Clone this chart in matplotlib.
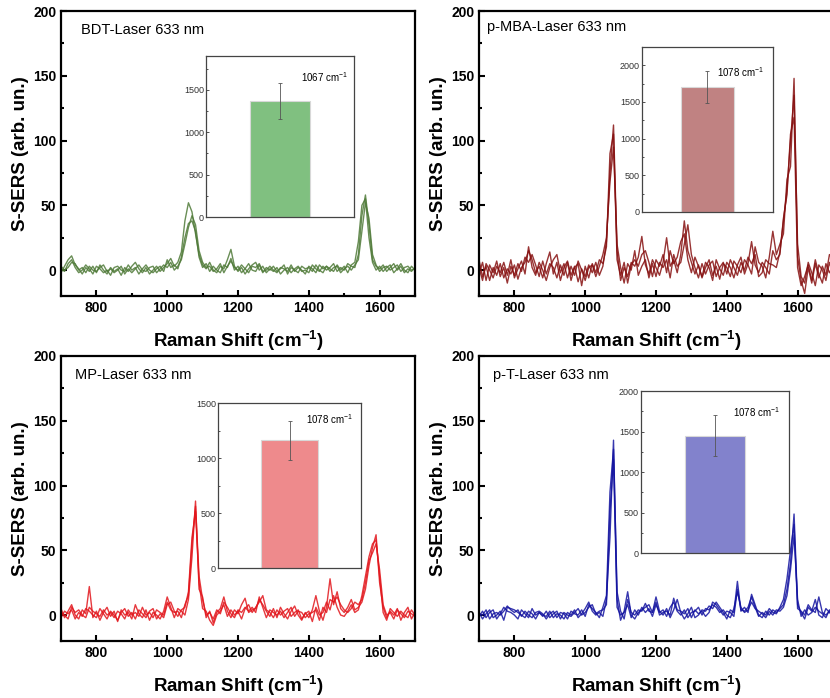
import numpy as np
import matplotlib
matplotlib.use("Agg")
import matplotlib.pyplot as plt
from matplotlib.ticker import MultipleLocator

plt.rcParams['font.family'] = ['Liberation Sans', 'DejaVu Sans']
plt.rcParams['mathtext.default'] = 'regular'

# Raman shift grid (cm-1), 10 cm-1 steps
shift = list(range(700, 1701, 10))

# --- BDT (green) ---
bdt_a = [-2, 3, 8, 11, 4, 1, -3, 2, -1, 3,
         -2, 4, 0, -3, 2, -1, 1, -4, 2, -1,
         3, 6, 1, -2, 2, -3, 0, 3, -1, 2,
         5, 9, 3, 6, 14, 38, 52, 45, 28, 12,
         4, 1, 6, 0, -2, 3, 1, 8, 16, 3,
         -1, 2, -3, 1, 4, 6, 0, 3, -2, 1,
         -1, 2, -3, 0, 2, -2, 1, 3, -1, 0,
         -2, 4, 1, -1, 3, 0, 2, 5, -1, 2,
         0, 5, 3, 2, 12, 42, 58, 35, 8, 3,
         1, 4, -1, 2, 5, 0, 3, -2, 1, -1,
         2]
bdt_b = [1, -1, 5, 8, 2, -2, 0, 4, 1, -3,
         3, 1, -2, 0, -4, 2, 3, 0, -1, 4,
         0, 2, -3, 1, 4, 0, -2, 1, 3, -1,
         8, 2, 4, 1, 10, 25, 36, 38, 30, 10,
         2, 5, -1, 3, 0, -2, 4, 2, 9, 0,
         3, -2, 1, 5, 0, -1, 4, -2, 2, 0,
         3, -1, 1, 4, -3, 2, 0, -2, 3, 1,
         2, -1, 4, 0, -2, 3, 1, -1, 4, 0,
         3, -2, 4, 6, 22, 50, 55, 25, 6, 0,
         3, -1, 2, 4, -2, 1, 5, 0, -2, 3,
         0]
bdt_c = [3, 0, 2, 6, 5, 0, 2, -2, 3, 0,
         -1, 2, 4, -1, 1, -2, 0, 3, -3, 1,
         -2, 1, 4, 0, -1, 2, 3, -2, 1, 4,
         2, 6, 0, 3, 8, 20, 33, 42, 35, 15,
         6, 2, 3, -1, 1, 5, -2, 3, 7, 2,
         0, 4, 1, -2, 3, 2, 5, -1, 0, 3,
         0, -2, 2, 1, -1, 4, -1, 2, 0, -3,
         3, 1, -2, 4, 1, 3, -1, 2, 3, -2,
         1, 3, 0, 4, 8, 30, 52, 40, 12, 4,
         -1, 2, 3, 0, 2, 4, -1, 2, 3, 0,
         1]

# --- p-MBA (dark red) ---
mba_a = [8, -5, 3, -8, 2, -4, 5, -6, 1, -3,
         4, -7, 2, 6, 15, 8, -2, 3, -6, 5,
         14, -3, 6, -8, 2, 7, -4, 3, -9, 1,
         -5, 4, -2, 6, -4, 3, 22, 75, 112, 15,
         -8, 2, -5, 6, 3, 10, 26, 4, -3, 8,
         2, -4, 6, 25, 3, 8, -2, 12, 38, 15,
         6, -3, 4, -6, 2, 8, -4, 3, -7, 5,
         2, -5, 7, 3, -2, 8, 4, -3, 18, 6,
         3, -6, 10, 30, 12, 20, 28, 70, 80, 148,
         10, -8, -18, 2, -10, 5, -6, 3, -4, 12,
         8]
mba_b = [-3, 6, -8, 4, -2, 7, -5, 2, -10, 3,
         -4, 5, -1, 10, 6, 12, 4, -5, 7, -3,
         5, 2, -6, 4, -4, 6, -8, 2, 5, -12,
         3, -6, 5, -2, 8, 5, 18, 90, 105, 8,
         -4, 6, -10, 4, 8, 3, 12, 15, 6, -5,
         8, 3, 12, -2, 15, 5, 10, 22, 28, 8,
         -2, 10, 3, -5, 6, 2, -8, 8, 1, -4,
         6, 2, -6, 4, 10, -3, 5, 22, 4, -2,
         6, 2, -3, 15, 8, 12, 40, 58, 105, 118,
         2, -12, -5, 4, -8, 8, -3, -10, 5, -2,
         3]
mba_c = [2, -8, 5, 0, -6, 3, -2, 6, -4, 8,
         -6, 1, 7, -3, 18, 2, -4, 6, 0, -8,
         2, 8, 12, -2, 5, -6, 3, -4, 7, 0,
         -8, 2, 4, -5, 3, 12, 25, 68, 95, 20,
         2, -10, 5, 0, 15, -4, 3, 8, -6, 5,
         -5, 6, 2, 8, -6, 12, 3, 6, 20, 35,
         12, 2, -6, 5, -3, 4, 7, -5, 2, 6,
         -3, 8, 2, -4, 6, 0, 10, 5, 12, -5,
         -2, 8, 5, 4, 2, 14, 38, 62, 100, 135,
         20, -5, -10, 6, -2, -12, 4, 0, -8, 6,
         -3]

# --- MP (red) ---
mp_a = [5, -2, 3, 8, 0, -3, 4, 1, 22, -2,
        3, -4, 2, 6, -1, 3, -5, 4, 0, 2,
        -3, 8, 1, -2, 4, -4, 2, 0, -3, 3,
        14, 6, -2, 5, 3, 0, 12, 45, 88, 20,
        14, -2, 3, -6, 2, 5, 14, 3, -2, 4,
        1, 8, 13, 2, 4, 5, 12, 8, 3, -1,
        5, -2, 6, 1, -3, 3, 7, 0, -4, 2,
        -2, 4, 15, 3, -4, 6, 28, 8, 18, 5,
        2, 6, 12, 4, 6, 10, 20, 38, 52, 62,
        25, 6, -2, 3, 0, 5, -4, 2, 6, -3,
        2]
mp_b = [-2, 3, 1, 4, -3, 2, -1, 5, 3, 0,
        -2, 5, 1, -3, 3, 0, -4, 2, 5, -1,
        2, -3, 4, 1, -2, 3, 5, -3, 1, -2,
        8, 10, 3, -1, 4, 6, 18, 60, 80, 25,
        5, 3, -4, -8, 0, 3, 8, -1, 4, 0,
        3, -3, 5, 8, 2, 6, 10, 15, 4, 2,
        -2, 4, 0, 3, 5, -1, 2, 4, -3, 1,
        3, -5, 6, 0, 2, 10, 4, 15, 6, 0,
        -1, 3, 8, 2, 4, 15, 30, 45, 55, 58,
        30, 2, -4, 5, 2, -1, 3, 0, -2, 4,
        0]
mp_c = [2, 0, -3, 6, 2, 4, 0, -2, 6, 3,
        1, -1, 4, 0, 2, -2, 3, 1, -3, 4,
        0, 2, -1, 6, 0, 2, -2, 4, 2, 0,
        10, 4, 2, 3, -2, 8, 15, 55, 84, 30,
        12, 0, 2, -3, 4, 1, 10, 6, 1, -2,
        4, 2, 6, 3, 6, 2, 14, 6, -2, 4,
        2, 0, 3, -2, 2, 6, -1, 3, 2, -2,
        1, 2, 4, -4, 6, 2, 12, 10, 14, 8,
        4, 2, 5, 10, 8, 12, 25, 42, 48, 55,
        35, 8, 0, 2, -3, 4, 1, -2, 3, 1,
        -1]

# --- p-T (blue) ---
pt_a = [2, -3, 1, 4, -2, 0, 3, -4, 6, 5,
        4, 2, 0, -2, 3, 1, -3, 2, 0, -1,
        3, -2, 1, 0, -3, 2, 0, 4, -2, 1,
        5, 10, 3, 0, 2, -1, 12, 60, 135, 12,
        -4, 3, 18, 0, -3, 2, 4, 6, 8, 2,
        14, 3, 0, 5, -2, 4, 12, 2, -3, 1,
        6, -2, 0, 4, 3, 7, 5, 10, 6, 2,
        -3, 4, 2, 26, 3, 6, 2, 16, 8, 0,
        -2, 3, 0, 4, 2, 5, 8, 20, 40, 78,
        8, 2, -3, 6, 3, 12, 0, -2, 5, 2,
        -1]
pt_b = [-1, 3, -2, 2, 4, -3, 1, 6, 3, 2,
        0, -3, 4, 1, -2, 5, 0, 2, -1, 3,
        -2, 1, 3, -3, 2, 0, -1, 2, 5, 0,
        2, 6, 8, 1, 3, 4, 8, 80, 120, 6,
        0, 2, 8, -2, 4, 0, 6, 2, 5, -1,
        8, 2, 4, -1, 6, 10, 3, 0, 4, -2,
        2, 3, 6, 0, 5, 4, 8, 6, 2, 4,
        0, -2, 5, 18, 6, 2, 4, 10, 5, 3,
        1, -2, 3, 0, 4, 3, 6, 15, 35, 62,
        12, -1, 4, 0, 2, 6, 3, 1, -2, 4,
        2]
pt_c = [1, 0, 4, -3, 1, 2, 0, 3, 7, 4,
        2, 4, -1, 3, 0, -2, 2, 3, 1, -3,
        1, 3, -2, 2, 1, -3, 3, 1, 0, 4,
        -1, 8, 5, 2, -2, 6, 15, 95, 128, 18,
        3, -3, 12, 2, 0, 4, 3, 9, 3, 2,
        10, 0, 2, 3, 0, 13, 4, 3, 1, 5,
        -2, 4, 1, 3, -1, 2, 10, 8, 4, 0,
        3, 2, -1, 20, 4, 3, 6, 14, 6, -1,
        2, 0, 5, 2, 1, 6, 12, 28, 50, 70,
        5, 3, 0, 8, 4, 2, 14, 2, 0, 3,
        0]

# inset bar values (intensity at main band) and error
titles = ["BDT-Laser 633 nm", "p-MBA-Laser 633 nm", "MP-Laser 633 nm", "p-T-Laser 633 nm"]
bands = ["1067", "1078", "1078", "1078"]
bar_vals = [1365, 1700, 1160, 1445]
bar_errs = [212, 220, 177, 253]

line_colors = ["#4f7a38", "#861010", "#e2161c", "#1414a0"]
bar_colors = ["#80c080", "#c08282", "#ee8a8c", "#8282cc"]

fig = plt.figure(figsize=(8.3, 6.98), dpi=100)

main_rects = [[0.0735, 0.5759, 0.4265, 0.4083],
              [0.5771, 0.5759, 0.4265, 0.4083],
              [0.0735, 0.0817, 0.4265, 0.4083],
              [0.5771, 0.0817, 0.4265, 0.4083]]
inset_rects = [[0.2482, 0.6891, 0.1783, 0.2307],
               [0.7735, 0.6963, 0.1578, 0.2364],
               [0.2627, 0.1862, 0.1723, 0.2364],
               [0.7723, 0.2077, 0.1783, 0.2321]]
inset_ylims = [1900, 2250, 1500, 2000]
title_pos = [(0.056, 0.933), (0.023, 0.944), (0.04, 0.933), (0.04, 0.933)]
label_pos = [(0.80, 0.87), (0.755, 0.85), (0.78, 0.90), (0.78, 0.87)]

spectra = [[bdt_a, bdt_b, bdt_c], [mba_a, mba_b, mba_c],
           [mp_a, mp_b, mp_c], [pt_a, pt_b, pt_c]]

for i in range(4):
    ax = fig.add_axes(main_rects[i])
    for tr in spectra[i]:
        ax.plot(shift, tr, color=line_colors[i], lw=1.0, alpha=0.85)
    ax.set_xlim(700, 1700)
    ax.set_ylim(-20, 200)
    ax.xaxis.set_major_locator(MultipleLocator(200))
    ax.xaxis.set_minor_locator(MultipleLocator(100))
    ax.yaxis.set_major_locator(MultipleLocator(50))
    ax.yaxis.set_minor_locator(MultipleLocator(25))
    ax.tick_params(which='both', direction='in', width=1.5)
    ax.tick_params(which='major', length=4, labelsize=10)
    ax.tick_params(which='minor', length=2.5)
    for lab in ax.get_xticklabels() + ax.get_yticklabels():
        lab.set_fontweight('bold')
    for s in ax.spines.values():
        s.set_linewidth(1.6)
    ax.set_xlabel("Raman Shift (cm$^{-1}$)", fontsize=13.5, fontweight='bold', labelpad=10)
    ax.set_ylabel("S-SERS (arb. un.)", fontsize=13.5, fontweight='bold', labelpad=3)
    ax.text(title_pos[i][0], title_pos[i][1], titles[i], transform=ax.transAxes,
            fontsize=10.5, ha='left', va='center')

    ins = fig.add_axes(inset_rects[i])
    ins.bar([1], [bar_vals[i]], width=0.4, color=bar_colors[i],
            edgecolor='#d8d8d8', linewidth=0.8)
    ins.errorbar([1], [bar_vals[i]], yerr=[bar_errs[i]], fmt='none',
                 ecolor='#555555', elinewidth=0.6, capsize=1.5, capthick=0.6)
    ins.set_xlim(0.5, 1.5)
    ins.set_ylim(0, inset_ylims[i])
    ins.set_xticks([])
    ins.yaxis.set_major_locator(MultipleLocator(500))
    ins.yaxis.set_minor_locator(MultipleLocator(250))
    ins.tick_params(axis='y', which='both', direction='in', labelsize=6.5,
                    colors='#333333', width=0.6)
    ins.tick_params(axis='y', which='major', length=2.5, pad=1.5)
    ins.tick_params(axis='y', which='minor', length=1.5)
    for s in ins.spines.values():
        s.set_linewidth(0.9)
        s.set_color('#444444')
    ins.text(label_pos[i][0], label_pos[i][1], bands[i] + " cm$^{-1}$",
             transform=ins.transAxes, fontsize=7, ha='center', va='center')

fig.savefig("out.png", dpi=100)
